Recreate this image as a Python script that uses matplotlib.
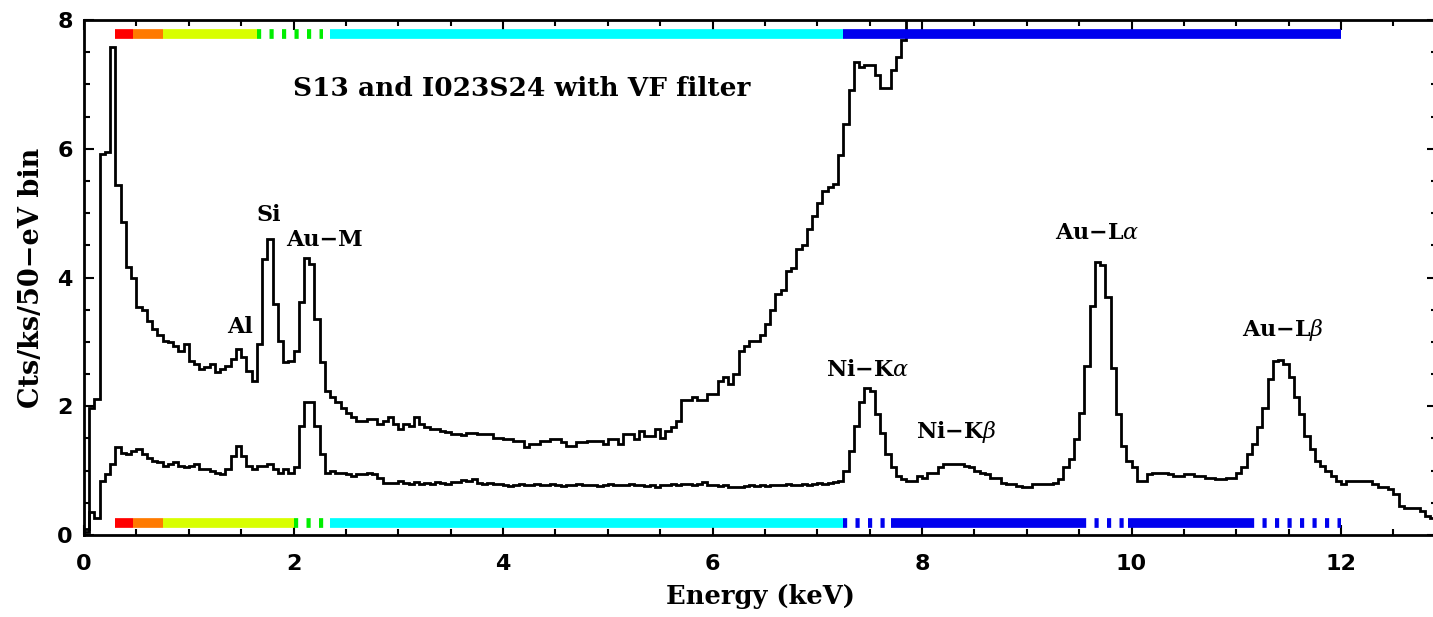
import matplotlib
matplotlib.use("Agg")
import matplotlib.pyplot as plt
import matplotlib.ticker as ticker
import matplotlib.transforms as mtransforms
import numpy as np

plt.rcParams["lines.scale_dashes"] = False
plt.rcParams["mathtext.fontset"] = "dejavuserif"

# ---- data (50 eV bins starting at 0 keV) ----
BIN_KEV = 0.05

# S13 spectrum (top curve), goes off scale above 7.8 keV
s13_counts = [
    0.05, 1.98, 2.11, 5.92, 5.95, 7.58, 5.43, 4.86, 4.16, 4.00,
    3.54, 3.49, 3.33, 3.20, 3.10, 3.02, 3.00, 2.94, 2.86, 2.97,
    2.71, 2.66, 2.58, 2.61, 2.66, 2.53, 2.58, 2.63, 2.73, 2.89,
    2.76, 2.55, 2.40, 2.97, 4.29, 4.60, 3.59, 3.02, 2.68, 2.71,
    2.86, 3.62, 4.30, 4.21, 3.36, 2.68, 2.24, 2.14, 2.06, 1.98,
    1.90, 1.83, 1.77, 1.77, 1.80, 1.80, 1.72, 1.77, 1.83, 1.72,
    1.64, 1.72, 1.70, 1.83, 1.72, 1.67, 1.64, 1.64, 1.62, 1.60,
    1.57, 1.57, 1.55, 1.59, 1.59, 1.57, 1.57, 1.57, 1.51, 1.51,
    1.49, 1.49, 1.46, 1.46, 1.36, 1.41, 1.41, 1.46, 1.46, 1.49,
    1.49, 1.44, 1.39, 1.39, 1.44, 1.44, 1.46, 1.46, 1.46, 1.41,
    1.49, 1.49, 1.41, 1.57, 1.57, 1.49, 1.62, 1.54, 1.54, 1.64,
    1.51, 1.62, 1.67, 1.77, 2.09, 2.09, 2.14, 2.09, 2.09, 2.19,
    2.19, 2.40, 2.45, 2.35, 2.50, 2.86, 2.94, 3.02, 3.02, 3.10,
    3.28, 3.50, 3.75, 3.80, 4.10, 4.15, 4.45, 4.50, 4.75, 4.95,
    5.15, 5.35, 5.40, 5.45, 5.90, 6.39, 6.91, 7.35, 7.27, 7.30,
    7.30, 7.14, 6.94, 6.94, 7.22, 7.43, 7.69, 9.00,
]

# I0,I2,I3,S2,S4 spectrum (bottom curve)
i023s24_counts = [
    0.10, 0.35, 0.27, 0.84, 0.95, 1.10, 1.36, 1.28, 1.26, 1.31,
    1.33, 1.26, 1.20, 1.15, 1.13, 1.07, 1.10, 1.13, 1.07, 1.05,
    1.07, 1.10, 1.02, 1.02, 1.00, 0.97, 0.94, 1.02, 1.23, 1.39,
    1.23, 1.07, 1.02, 1.07, 1.07, 1.10, 1.02, 0.97, 1.02, 0.97,
    1.05, 1.70, 2.06, 2.06, 1.70, 1.26, 0.97, 1.00, 0.97, 0.97,
    0.94, 0.92, 0.94, 0.94, 0.97, 0.94, 0.89, 0.81, 0.81, 0.81,
    0.84, 0.81, 0.80, 0.82, 0.80, 0.81, 0.80, 0.83, 0.81, 0.80,
    0.82, 0.83, 0.86, 0.84, 0.87, 0.81, 0.80, 0.81, 0.79, 0.80,
    0.78, 0.76, 0.77, 0.79, 0.78, 0.77, 0.79, 0.78, 0.77, 0.79,
    0.77, 0.76, 0.78, 0.77, 0.79, 0.78, 0.77, 0.78, 0.76, 0.78,
    0.79, 0.77, 0.78, 0.77, 0.79, 0.78, 0.77, 0.76, 0.77, 0.74,
    0.77, 0.78, 0.79, 0.78, 0.80, 0.79, 0.78, 0.79, 0.82, 0.78,
    0.77, 0.76, 0.77, 0.74, 0.75, 0.74, 0.76, 0.77, 0.76, 0.77,
    0.76, 0.78, 0.77, 0.78, 0.79, 0.78, 0.77, 0.79, 0.78, 0.80,
    0.81, 0.80, 0.81, 0.82, 0.84, 1.00, 1.31, 1.70, 2.06, 2.29,
    2.24, 1.88, 1.59, 1.26, 1.05, 0.92, 0.87, 0.84, 0.84, 0.92,
    0.89, 0.97, 0.97, 1.05, 1.10, 1.10, 1.10, 1.10, 1.07, 1.05,
    1.00, 0.97, 0.94, 0.89, 0.89, 0.81, 0.79, 0.79, 0.76, 0.74,
    0.74, 0.79, 0.79, 0.79, 0.79, 0.81, 0.87, 1.05, 1.18, 1.49,
    1.90, 2.63, 3.56, 4.24, 4.19, 3.69, 2.60, 1.88, 1.39, 1.15,
    1.05, 0.84, 0.84, 0.94, 0.97, 0.97, 0.97, 0.94, 0.92, 0.92,
    0.94, 0.94, 0.92, 0.92, 0.89, 0.89, 0.87, 0.87, 0.89, 0.89,
    0.97, 1.05, 1.26, 1.41, 1.67, 1.98, 2.42, 2.71, 2.72, 2.66,
    2.45, 2.15, 1.88, 1.54, 1.33, 1.15, 1.07, 0.99, 0.92, 0.84,
    0.79, 0.84, 0.84, 0.84, 0.84, 0.84, 0.79, 0.74, 0.74, 0.71,
    0.63, 0.45, 0.42, 0.42, 0.42, 0.37, 0.30, 0.27,
]

# energy bands shown as coloured strips (keV)
top_band_lo = [0.30, 0.47, 0.75, 1.65, 2.35, 7.25]
top_band_hi = [0.47, 0.75, 1.65, 2.28, 7.25, 12.0]
top_band_kind = ["red", "orange", "yellow", "green", "cyan", "blue"]
top_band_dashed = [False, False, False, True, False, False]

bot_band_lo = [0.30, 0.47, 0.75, 2.00, 2.35, 7.25, 7.70, 9.53, 9.97, 11.13]
bot_band_hi = [0.47, 0.75, 2.00, 2.30, 7.25, 7.70, 9.53, 9.97, 11.13, 12.0]
bot_band_kind = ["red", "orange", "yellow", "green", "cyan",
                 "blue", "blue", "blue", "blue", "blue"]
bot_band_dashed = [False, False, False, True, False,
                   True, False, True, False, True]

line_labels = ["Al", "Si", "Au\u2212M", "Ni\u2212K$\\alpha$", "Ni\u2212K$\\beta$",
               "Au\u2212L$\\alpha$", "Au\u2212L$\\beta$"]
title_text = "S13 and I023S24 with VF filter"

# ---- style ----
BAND_COLORS = {
    "red": "#ff0000", "orange": "#ff7a00", "yellow": "#d8ff00",
    "green": "#00ee00", "cyan": "#00ffff", "blue": "#0000ee",
}
label_pos = [(1.49, 3.23), (1.76, 4.97), (2.30, 4.58), (7.48, 2.56),
             (8.33, 1.60), (9.67, 4.69), (11.45, 3.18)]
SERIF = "DejaVu Serif"


def draw_bands(ax, lo, hi, kinds, dashed, yfrac):
    trans = mtransforms.blended_transform_factory(ax.transData, ax.transAxes)
    for a, b, k, d in zip(lo, hi, kinds, dashed):
        kw = dict(color=BAND_COLORS[k], linewidth=7, transform=trans,
                  solid_capstyle="butt", dash_capstyle="butt", clip_on=False)
        if d:
            ax.plot([a, b], [yfrac, yfrac], dashes=(3, 6), **kw)
        else:
            ax.plot([a, b], [yfrac, yfrac], **kw)


fig = plt.figure(figsize=(14.33, 6.17), dpi=100)
# right frame edge sits just past the image edge, as in the cropped original
ax = fig.add_axes([84 / 1433, 82 / 617, 1353 / 1433, 515 / 617])

edges_top = np.arange(len(s13_counts) + 1) * BIN_KEV
edges_bot = np.arange(len(i023s24_counts) + 1) * BIN_KEV
ax.stairs(s13_counts, edges_top, baseline=None, color="black", linewidth=2.0)
ax.stairs(i023s24_counts, edges_bot, baseline=None, color="black", linewidth=2.0)

draw_bands(ax, top_band_lo, top_band_hi, top_band_kind, top_band_dashed, 0.973)
draw_bands(ax, bot_band_lo, bot_band_hi, bot_band_kind, bot_band_dashed, 0.024)

ax.set_xlim(0, 1353 / 104.75)
ax.set_ylim(0, 8)
ax.xaxis.set_major_locator(ticker.MultipleLocator(2))
ax.xaxis.set_minor_locator(ticker.MultipleLocator(0.5))
ax.yaxis.set_major_locator(ticker.MultipleLocator(2))
ax.yaxis.set_minor_locator(ticker.MultipleLocator(0.5))
ax.tick_params(which="both", direction="in", top=True, right=True, width=1.5)
ax.tick_params(which="major", length=7, labelsize=16)
ax.tick_params(which="minor", length=4)
ax.tick_params(axis="x", pad=14)
ax.tick_params(axis="y", pad=8)
for lab in ax.get_xticklabels() + ax.get_yticklabels():
    lab.set_fontweight("bold")
for sp in ax.spines.values():
    sp.set_linewidth(2.0)

ax.set_xlabel("Energy (keV)", fontsize=18.5, family=SERIF, fontweight="bold", labelpad=7)
ax.set_ylabel("Cts/ks/50\u2212eV bin", fontsize=19.5, family=SERIF, fontweight="bold",
              labelpad=9)

ax.text(4.18, 6.94, title_text, fontsize=19, family=SERIF, fontweight="bold",
        ha="center", va="center")
for txt, (x, y) in zip(line_labels, label_pos):
    ax.text(x, y, txt, fontsize=16, family=SERIF, fontweight="bold",
            ha="center", va="center")

fig.savefig("out.png", dpi=100)
